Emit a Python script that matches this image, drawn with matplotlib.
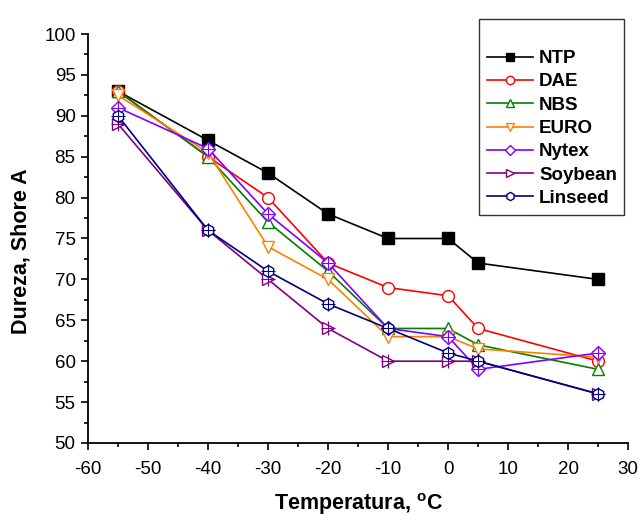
import matplotlib
matplotlib.use('Agg')
import matplotlib.pyplot as plt
from matplotlib.ticker import MultipleLocator

plt.rcParams['font.family'] = ['Liberation Sans', 'DejaVu Sans']
plt.rcParams['axes.unicode_minus'] = False
plt.rcParams['mathtext.fontset'] = 'custom'
plt.rcParams['mathtext.bf'] = 'Liberation Sans:bold'
plt.rcParams['mathtext.rm'] = 'Liberation Sans'

# temperaturas (°C)
temps = [-55, -40, -30, -20, -10, 0, 5, 25]

# dureza Shore A por plastificante
ntp = [93, 87, 83, 78, 75, 75, 72, 70]
dae = [93, 85, 80, 72, 69, 68, 64, 60]
nbs = [93, 85, 77, 71, 64, 64, 62, 59]
euro = [92.5, 85.5, 74, 70, 63, 63, 61.5, 60.5]
nytex = [91, 86, 78, 72, 64, 63, 59, 61]
soybean = [89, 76, 70, 64, 60, 60, 60, 56]
linseed = [90, 76, 71, 67, 64, 61, 60, 56]

fig = plt.figure(figsize=(6.4, 5.16), dpi=100)
ax = fig.add_axes([0.1375, 0.1415, 0.844, 0.7926])

series = [
    ('NTP', ntp, 'black', 's', True, False),
    ('DAE', dae, '#ff0000', 'o', False, False),
    ('NBS', nbs, '#008000', '^', False, False),
    ('EURO', euro, '#ff8000', 'v', False, False),
    ('Nytex', nytex, '#8000ff', 'D', False, True),
    ('Soybean', soybean, '#800080', '>', False, True),
    ('Linseed', linseed, '#000080', 'h', False, True),
]

for name, vals, color, mk, filled, cross in series:
    size = 8.5 if mk != 'D' else 7
    if mk == 's':
        size = 8
    ax.plot(temps, vals, color=color, lw=1.2, marker=mk, ms=size,
            mfc=color if filled else 'white', mec=color, mew=1.0,
            label=name)
    if cross:
        ax.plot(temps, vals, ls='none', marker='+', ms=size + 1.5,
                mec=color, mew=0.8)

ax.set_xlim(-60, 30)
ax.set_ylim(50, 100)
ax.xaxis.set_major_locator(MultipleLocator(10))
ax.xaxis.set_minor_locator(MultipleLocator(5))
ax.yaxis.set_major_locator(MultipleLocator(5))
ax.yaxis.set_minor_locator(MultipleLocator(2.5))
ax.tick_params(which='both', direction='out', width=1.2, labelsize=13.5)
ax.tick_params(which='major', length=5)
ax.tick_params(which='minor', length=3)
ax.tick_params(axis='x', pad=8)
ax.tick_params(axis='y', pad=4)
ax.spines['top'].set_visible(False)
ax.spines['right'].set_visible(False)
ax.spines['left'].set_linewidth(1.3)
ax.spines['bottom'].set_linewidth(1.3)

ax.set_xlabel(r'Temperatura, $^{\mathbf{o}}$C', fontsize=15.5, fontweight='bold')
ax.set_ylabel('Dureza, Shore A', fontsize=15.5, fontweight='bold')
ax.xaxis.set_label_coords(0.5, -0.118)
ax.yaxis.set_label_coords(-0.105, 0.47)

leg = ax.legend(loc='upper right', bbox_to_anchor=(1.0, 1.045), fancybox=False,
                edgecolor='black', handlelength=2.5, handletextpad=0.3,
                borderpad=0.4, borderaxespad=0.2, labelspacing=0.33,
                markerscale=0.7, title=' ', title_fontsize=13.5,
                prop={'weight': 'bold', 'size': 13.5})
leg.get_frame().set_linewidth(1.0)

fig.savefig('out.png', dpi=100)
